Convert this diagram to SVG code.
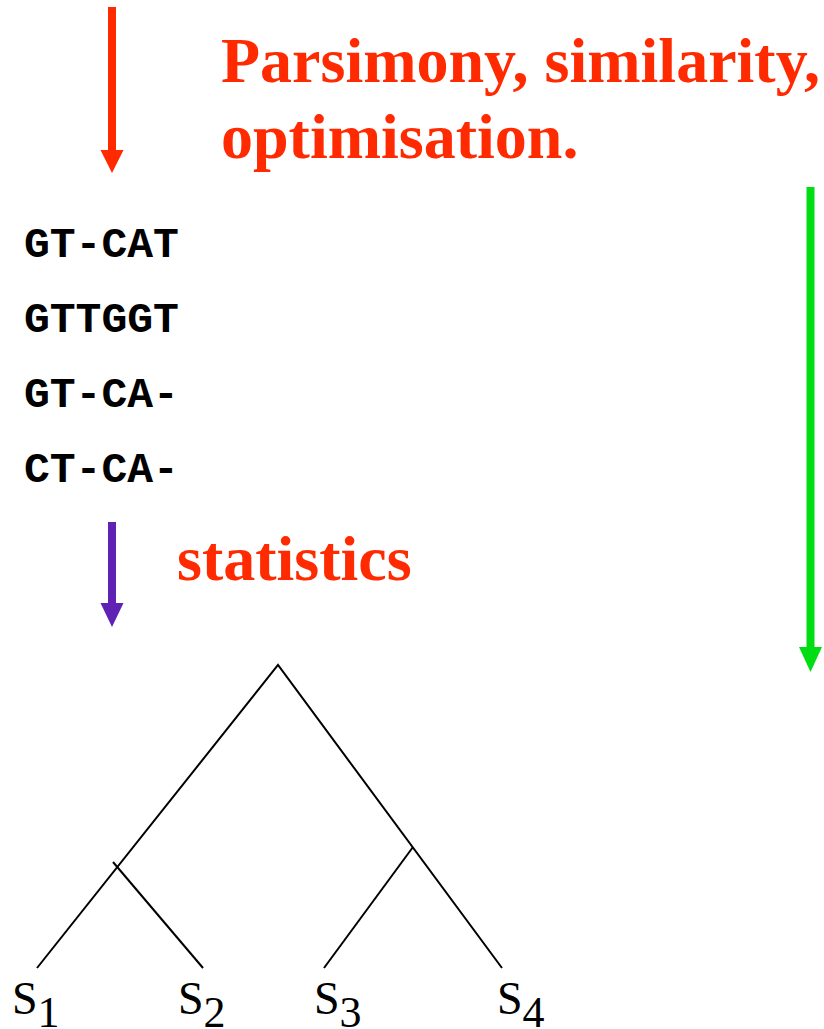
<svg xmlns="http://www.w3.org/2000/svg" width="824" height="1029" viewBox="0 0 824 1029">
<style>
.title{font-family:"Liberation Serif","Times New Roman",serif;font-weight:bold;font-size:64px;fill:#FF2A00}
.seq{font-family:"Liberation Mono","Courier New",monospace;font-weight:bold;font-size:43px;fill:#000}
.lbl{font-family:"Liberation Serif","Times New Roman",serif;font-size:46px;fill:#000}
.sub{font-size:44px}
.edge{stroke:#000;stroke-width:2;fill:none}
</style>
<rect width="824" height="1029" fill="#fff"/>
<g id="arrows">
  <g id="arrow-red">
    <rect x="108" y="7" width="8" height="145" fill="#FF2A00"/>
    <polygon points="100.5,150 123.5,150 112,173" fill="#FF2A00"/>
  </g>
  <g id="arrow-purple">
    <rect x="108" y="522" width="8" height="83" fill="#6022B4"/>
    <polygon points="100.5,603 123.5,603 112,627" fill="#6022B4"/>
  </g>
  <g id="arrow-green">
    <rect x="806.5" y="187" width="8" height="462" fill="#00DD12"/>
    <polygon points="799,647 822,647 810.5,672" fill="#00DD12"/>
  </g>
</g>
<g id="title">
  <text class="title" x="221" y="82">Parsimony, similarity,</text>
  <text class="title" x="221" y="158">optimisation.</text>
</g>
<g id="alignment">
  <text class="seq" x="24" y="257">GT-CAT</text>
  <text class="seq" x="24" y="332">GTTGGT</text>
  <text class="seq" x="24" y="407">GT-CA-</text>
  <text class="seq" x="24" y="482">CT-CA-</text>
</g>
<g id="stats">
  <text class="title" x="177" y="580">statistics</text>
</g>
<g id="tree">
  <polyline class="edge" points="37,968 278,665 502,968"/>
  <line class="edge" x1="113" y1="862" x2="203" y2="968"/>
  <line class="edge" x1="413" y1="847" x2="324" y2="968"/>
</g>
<g id="leaves">
  <text class="lbl" x="12" y="1014">S<tspan class="sub" dy="13">1</tspan></text>
  <text class="lbl" x="178" y="1014">S<tspan class="sub" dy="13">2</tspan></text>
  <text class="lbl" x="314" y="1014">S<tspan class="sub" dy="13">3</tspan></text>
  <text class="lbl" x="497" y="1014">S<tspan class="sub" dy="13">4</tspan></text>
</g>
</svg>
